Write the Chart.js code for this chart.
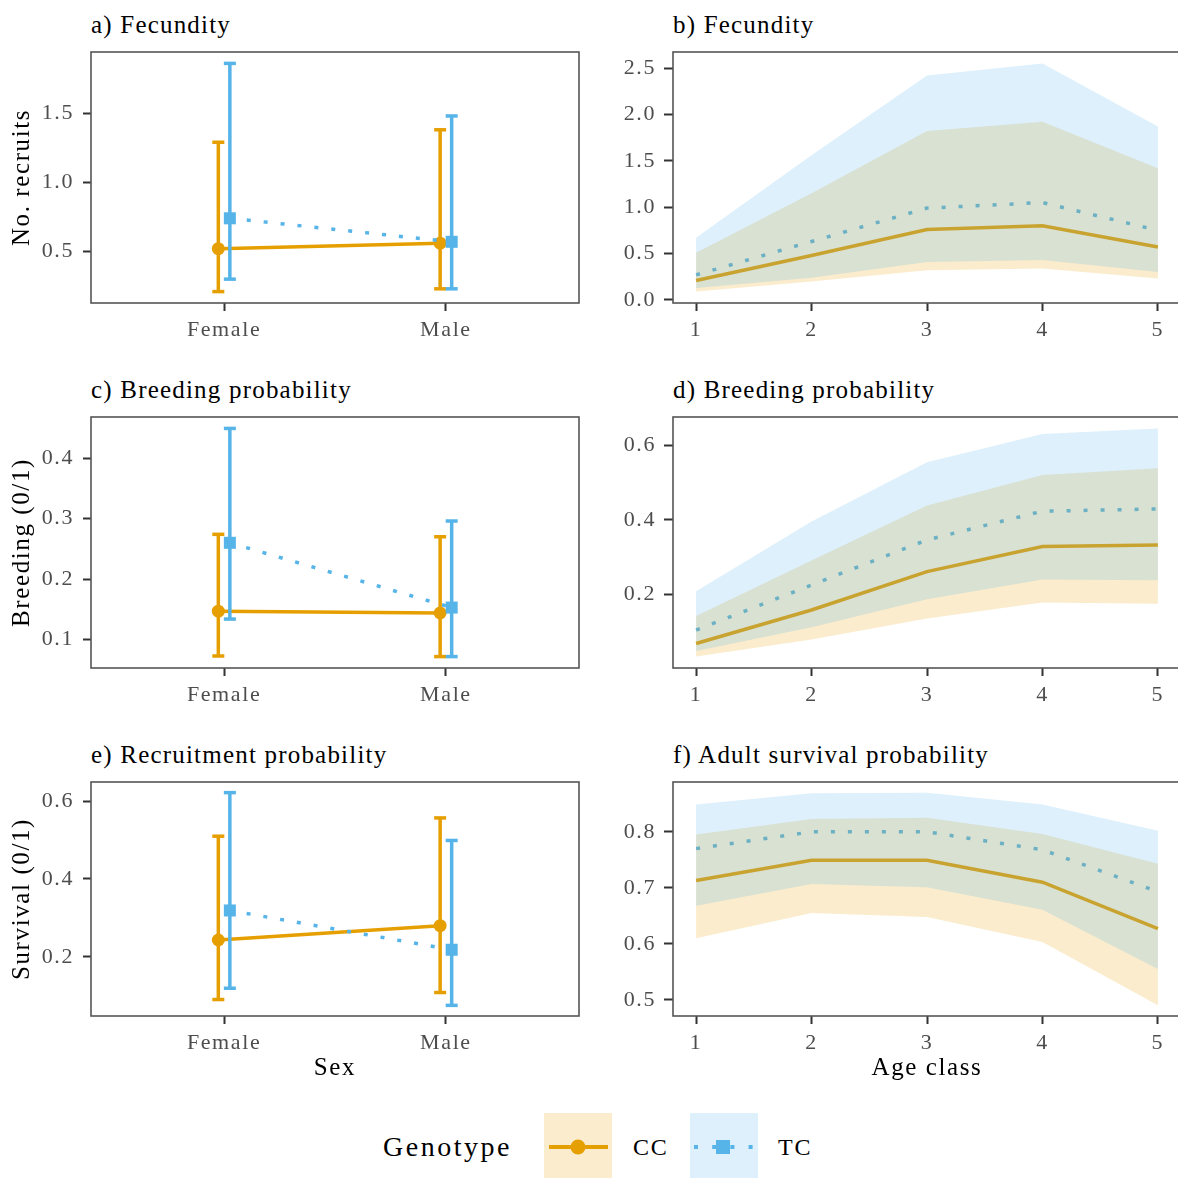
<!DOCTYPE html>
<html>
<head>
<meta charset="utf-8">
<script src="https://cdn.jsdelivr.net/npm/chart.js@4.4.1/dist/chart.umd.min.js"></script>
<style>
    html, body { margin: 0; padding: 0; background: #fff; }
    body { width: 1178px; height: 1178px; overflow: hidden; position: relative;
           font-family: 'Liberation Serif', 'Times New Roman', serif; }
    canvas { position: absolute; }
    .ptitle { position: absolute; font-size: 25px; line-height: 28px; letter-spacing: 1.2px;
              color: #000; white-space: nowrap; }
    .legtext { position: absolute; font-size: 24px; line-height: 28px; letter-spacing: 1.8px;
               color: #000; white-space: nowrap; }
    .key { position: absolute; width: 68px; height: 65px; }
</style>
</head>
<body>

<div class="ptitle" style="left:91px;top:11px">a) Fecundity</div>
<div class="ptitle" style="left:673px;top:11px">b) Fecundity</div>
<div class="ptitle" style="left:91px;top:376px">c) Breeding probability</div>
<div class="ptitle" style="left:673px;top:376px">d) Breeding probability</div>
<div class="ptitle" style="left:91px;top:741px">e) Recruitment probability</div>
<div class="ptitle" style="left:673px;top:741px">f) Adult survival probability</div>

<canvas id="panelA" width="590" height="323" style="left:0;top:27px"></canvas>
<canvas id="panelB" width="600" height="323" style="left:590px;top:27px"></canvas>
<canvas id="panelC" width="590" height="323" style="left:0;top:392px"></canvas>
<canvas id="panelD" width="600" height="323" style="left:590px;top:392px"></canvas>
<canvas id="panelE" width="590" height="329" style="left:0;top:757px"></canvas>
<canvas id="panelF" width="600" height="329" style="left:590px;top:757px"></canvas>

<!-- legend -->
<div class="legtext" style="left:383px;top:1131px;font-size:28px;line-height:32px;letter-spacing:2.5px;">Genotype</div>
<div class="key" style="left:544px;top:1113px;background:rgba(230,159,0,0.2)">
    <svg width="68" height="65">
        <line x1="5" y1="34" x2="64" y2="34" stroke="#E69F00" stroke-width="4"/>
        <circle cx="34" cy="34" r="7.5" fill="#E69F00"/>
    </svg>
</div>
<div class="legtext" style="left:633px;top:1133px">CC</div>
<div class="key" style="left:690px;top:1113px;background:rgba(86,180,233,0.2)">
    <svg width="68" height="65">
        <line x1="4" y1="34" x2="66" y2="34" stroke="#56B4E9" stroke-width="4" stroke-dasharray="4 14.2"/>
        <rect x="26" y="27" width="14" height="14" fill="#56B4E9"/>
    </svg>
</div>
<div class="legtext" style="left:778px;top:1133px">TC</div>

<script>
// ==================== DATA ====================
const sexLabels = ['Female', 'Male'];
const ageClasses = [1, 2, 3, 4, 5];

// a) Fecundity by sex (No. recruits)
const fecSexCC = [0.52, 0.56];
const fecSexCCLow = [0.21, 0.23];
const fecSexCCHigh = [1.29, 1.38];
const fecSexTC = [0.74, 0.57];
const fecSexTCLow = [0.30, 0.23];
const fecSexTCHigh = [1.86, 1.48];
const fecSexTicks = [0.5, 1.0, 1.5];

// c) Breeding probability by sex
const breedSexCC = [0.147, 0.144];
const breedSexCCLow = [0.073, 0.072];
const breedSexCCHigh = [0.274, 0.270];
const breedSexTC = [0.260, 0.153];
const breedSexTCLow = [0.134, 0.072];
const breedSexTCHigh = [0.449, 0.296];
const breedSexTicks = [0.1, 0.2, 0.3, 0.4];

// e) Recruitment probability by sex
const survSexCC = [0.243, 0.280];
const survSexCCLow = [0.090, 0.108];
const survSexCCHigh = [0.510, 0.557];
const survSexTC = [0.319, 0.218];
const survSexTCLow = [0.119, 0.075];
const survSexTCHigh = [0.622, 0.499];
const survSexTicks = [0.2, 0.4, 0.6];

// b) Fecundity by age class
const fecAgeCC = [0.21, 0.48, 0.76, 0.80, 0.57];
const fecAgeCCLow = [0.09, 0.20, 0.32, 0.34, 0.23];
const fecAgeCCHigh = [0.51, 1.15, 1.82, 1.92, 1.42];
const fecAgeTC = [0.27, 0.63, 0.99, 1.05, 0.75];
const fecAgeTCLow = [0.13, 0.24, 0.41, 0.43, 0.30];
const fecAgeTCHigh = [0.67, 1.56, 2.42, 2.55, 1.87];
const fecAgeTicks = [0.0, 0.5, 1.0, 1.5, 2.0, 2.5];

// d) Breeding probability by age class
const breedAgeCC = [0.068, 0.158, 0.261, 0.328, 0.332];
const breedAgeCCLow = [0.033, 0.079, 0.135, 0.178, 0.175];
const breedAgeCCHigh = [0.142, 0.291, 0.438, 0.520, 0.538];
const breedAgeTC = [0.104, 0.225, 0.346, 0.423, 0.429];
const breedAgeTCLow = [0.048, 0.112, 0.187, 0.240, 0.238];
const breedAgeTCHigh = [0.208, 0.395, 0.554, 0.630, 0.645];
const breedAgeTicks = [0.2, 0.4, 0.6];

// f) Adult survival probability by age class
const survAgeCC = [0.713, 0.749, 0.749, 0.710, 0.627];
const survAgeCCLow = [0.610, 0.655, 0.648, 0.603, 0.490];
const survAgeCCHigh = [0.795, 0.823, 0.825, 0.796, 0.743];
const survAgeTC = [0.770, 0.800, 0.800, 0.768, 0.693];
const survAgeTCLow = [0.668, 0.707, 0.701, 0.661, 0.555];
const survAgeTCHigh = [0.849, 0.869, 0.870, 0.849, 0.802];
const survAgeTicks = [0.5, 0.6, 0.7, 0.8];

// ==================== STYLE ====================
const orange = '#E69F00';
const blue = '#56B4E9';
const orangeFill = 'rgba(230, 159, 0, 0.2)';
const blueFill = 'rgba(86, 180, 233, 0.2)';
const dodge = 0.026;
const dotted = [4, 13];

Chart.defaults.font.family = "'Liberation Serif', 'Times New Roman', serif";
Chart.defaults.color = '#4D4D4D';

// ggplot-style 5% expansion of the data range
const expandRange = (arrays) => {
    const all = arrays.flat();
    const lo = Math.min(...all);
    const hi = Math.max(...all);
    const pad = (hi - lo) * 0.05;
    return [lo - pad, hi + pad];
};

// ==================== PLUGINS ====================
// wider text spacing, as in the reference rendering
const letterSpacing = {
    id: 'letterSpacing',
    beforeLayout: (chart) => { chart.ctx.letterSpacing = '1.6px'; },
    beforeDraw: (chart) => { chart.ctx.letterSpacing = '1.6px'; }
};

// theme_bw panel border
const panelBox = {
    id: 'panelBox',
    afterDraw: (chart) => {
        const { ctx, chartArea: a } = chart;
        ctx.save();
        ctx.strokeStyle = '#555';
        ctx.lineWidth = 1.6;
        ctx.strokeRect(a.left, a.top, a.right - a.left, a.bottom - a.top);
        ctx.restore();
    }
};

// ==================== SHARED AXES ====================
const yAxis = (ticks, range, width, title, tickLength, padding) => ({
    type: 'linear',
    min: range[0],
    max: range[1],
    afterBuildTicks: (axis) => { axis.ticks = ticks.map(v => ({ value: v })); },
    afterFit: (axis) => { axis.width = width; },
    ticks: { color: '#4D4D4D', font: { size: 22 }, padding: padding, callback: v => v.toFixed(1) },
    grid: { display: true, drawOnChartArea: false, drawTicks: true, tickLength: tickLength, tickColor: '#333', tickWidth: 2 },
    border: { display: false },
    title: {
        display: !!title, text: title, color: '#000',
        font: { size: 25 }, padding: { top: 7, bottom: 0 }
    }
});

const xAxis = (min, max, tickValues, labelFn, height, title) => ({
    type: 'linear',
    min: min,
    max: max,
    afterBuildTicks: (axis) => { axis.ticks = tickValues.map(v => ({ value: v })); },
    afterFit: (axis) => { axis.height = height; },
    ticks: { color: '#4D4D4D', font: { size: 22 }, padding: 6, maxRotation: 0, callback: labelFn },
    grid: { display: true, drawOnChartArea: false, drawTicks: true, tickLength: 8, tickColor: '#333', tickWidth: 2 },
    border: { display: false },
    title: {
        display: !!title, text: title, color: '#000',
        font: { size: 25 }, padding: { top: 0, bottom: 3 }
    }
});

const baseOptions = (scales, paddingRight) => ({
    responsive: false,
    animation: false,
    devicePixelRatio: 1,
    events: [],
    layout: { padding: { top: 25, right: paddingRight, bottom: 0, left: 0 } },
    plugins: { legend: { display: false }, tooltip: { enabled: false } },
    scales: scales
});

// ==================== SEX PANELS (LEFT) ====================
const makeSexChart = (id, cc, ccLow, ccHigh, tc, tcLow, tcHigh, yTicks, yTitle, xTitle) => {
    const range = expandRange([ccLow, ccHigh, tcLow, tcHigh]);
    const meanData = (vals, off) => vals.map((v, i) => ({ x: i + 1 + off, y: v }));
    const barData = (lo, hi, off) => {
        const out = [];
        lo.forEach((l, i) => {
            if (i > 0) out.push({ x: i + 0.5, y: null });
            out.push({ x: i + 1 + off, y: l }, { x: i + 1 + off, y: hi[i] });
        });
        return out;
    };

    new Chart(document.getElementById(id), {
        type: 'line',
        data: {
            datasets: [
                {
                    label: 'CC', data: meanData(cc, -dodge),
                    borderColor: orange, backgroundColor: orange, borderWidth: 3.5,
                    pointStyle: 'circle', pointRadius: 6.5, pointBorderWidth: 0, order: 4
                },
                {
                    label: 'TC', data: meanData(tc, dodge),
                    borderColor: blue, backgroundColor: blue, borderWidth: 3.5, borderDash: dotted,
                    pointStyle: 'rect', pointRadius: 8.5, pointBorderWidth: 0, order: 3
                },
                {
                    label: 'CC interval', data: barData(ccLow, ccHigh, -dodge), spanGaps: false,
                    borderColor: orange, borderWidth: 3.5,
                    pointStyle: 'line', pointRadius: 6, pointBorderWidth: 3.5, pointBorderColor: orange, order: 2
                },
                {
                    label: 'TC interval', data: barData(tcLow, tcHigh, dodge), spanGaps: false,
                    borderColor: blue, borderWidth: 3.5,
                    pointStyle: 'line', pointRadius: 6, pointBorderWidth: 3.5, pointBorderColor: blue, order: 1
                }
            ]
        },
        options: baseOptions({
            x: xAxis(0.4, 2.6, [1, 2], v => sexLabels[Math.round(v) - 1], xTitle ? 70 : 47, xTitle),
            y: yAxis(yTicks, range, 91, yTitle, 8, 9)
        }, 11),
        plugins: [letterSpacing, panelBox]
    });
};

// ==================== AGE PANELS (RIGHT) ====================
const makeAgeChart = (id, cc, ccLow, ccHigh, tc, tcLow, tcHigh, yTicks, xTitle) => {
    const range = expandRange([ccLow, ccHigh, tcLow, tcHigh]);
    const toPoints = (vals) => vals.map((v, i) => ({ x: ageClasses[i], y: v }));
    const edge = { borderWidth: 0, borderColor: 'transparent', pointRadius: 0 };

    new Chart(document.getElementById(id), {
        type: 'line',
        data: {
            datasets: [
                { label: 'CC', data: toPoints(cc), borderColor: orange, borderWidth: 3.5, pointRadius: 0, fill: false, order: 6 },
                { label: 'TC', data: toPoints(tc), borderColor: blue, borderWidth: 3.5, borderDash: dotted, pointRadius: 0, fill: false, order: 5 },
                { label: 'CC low', data: toPoints(ccLow), ...edge, fill: false, order: 4 },
                { label: 'CC high', data: toPoints(ccHigh), ...edge, fill: 2, backgroundColor: orangeFill, order: 3 },
                { label: 'TC low', data: toPoints(tcLow), ...edge, fill: false, order: 2 },
                { label: 'TC high', data: toPoints(tcHigh), ...edge, fill: 4, backgroundColor: blueFill, order: 1 }
            ]
        },
        options: baseOptions({
            x: xAxis(0.8, 5.2, ageClasses, v => String(Math.round(v)), xTitle ? 70 : 47, xTitle),
            y: yAxis(yTicks, range, 83, '', 9, 8)
        }, 9),
        plugins: [letterSpacing, panelBox]
    });
};

// ==================== BUILD ====================
makeSexChart('panelA', fecSexCC, fecSexCCLow, fecSexCCHigh, fecSexTC, fecSexTCLow, fecSexTCHigh,
    fecSexTicks, 'No. recruits', '');
makeSexChart('panelC', breedSexCC, breedSexCCLow, breedSexCCHigh, breedSexTC, breedSexTCLow, breedSexTCHigh,
    breedSexTicks, 'Breeding (0/1)', '');
makeSexChart('panelE', survSexCC, survSexCCLow, survSexCCHigh, survSexTC, survSexTCLow, survSexTCHigh,
    survSexTicks, 'Survival (0/1)', 'Sex');

makeAgeChart('panelB', fecAgeCC, fecAgeCCLow, fecAgeCCHigh, fecAgeTC, fecAgeTCLow, fecAgeTCHigh,
    fecAgeTicks, '');
makeAgeChart('panelD', breedAgeCC, breedAgeCCLow, breedAgeCCHigh, breedAgeTC, breedAgeTCLow, breedAgeTCHigh,
    breedAgeTicks, '');
makeAgeChart('panelF', survAgeCC, survAgeCCLow, survAgeCCHigh, survAgeTC, survAgeTCLow, survAgeTCHigh,
    survAgeTicks, 'Age class');
</script>
</body>
</html>
